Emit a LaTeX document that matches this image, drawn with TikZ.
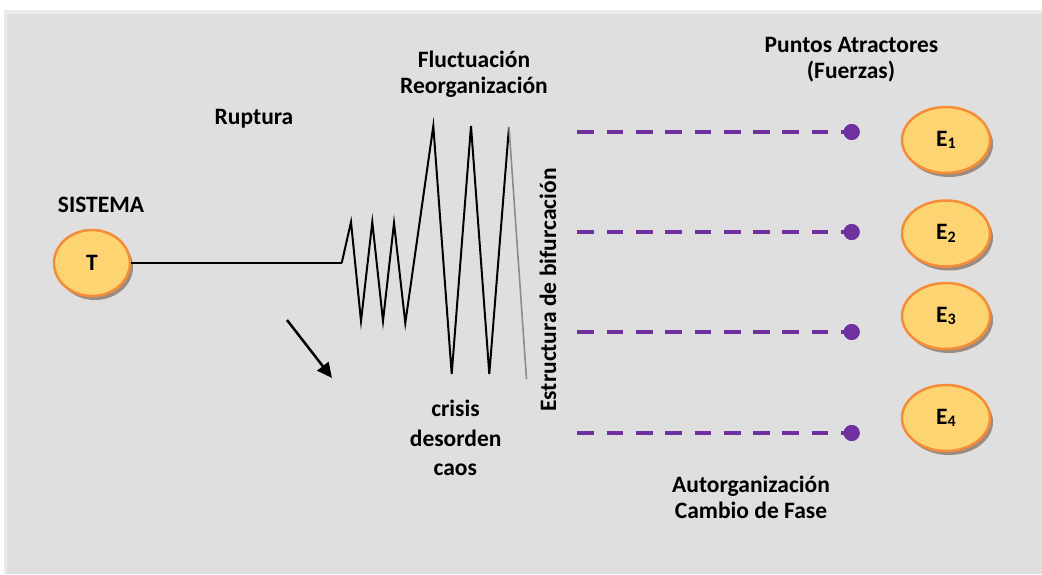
\documentclass[tikz,border=0pt]{standalone}
\usepackage{fontspec}
\setmainfont{Carlito}
\usetikzlibrary{shapes.geometric,arrows.meta}
\definecolor{bgout}{HTML}{EBEBEB}
\definecolor{bgin}{HTML}{DFDFDF}
\definecolor{ellfill}{HTML}{FDD472}
\definecolor{ellline}{HTML}{F58C38}
\definecolor{shadowc}{HTML}{9C8C80}
\definecolor{purp}{HTML}{7030A0}
\definecolor{zgray}{HTML}{8C8C8C}
\tikzset{
  lbl/.style={font=\fontsize{23.5}{27}\selectfont\bfseries, anchor=base, inner sep=0pt},
  state/.style={ellipse, draw=ellline, line width=2.5pt, fill=ellfill, inner sep=0pt,
    minimum height=66pt, font=\fontsize{23.5}{27}\selectfont\bfseries,
    preaction={fill=shadowc, transform canvas={shift={(3pt,-4pt)}}}},
  tstate/.style={state, minimum width=76pt},
  estate/.style={state, minimum width=88pt},
  attr/.style={circle, fill=purp, inner sep=0pt, minimum size=16pt},
  dashline/.style={purp, line width=4pt, dash pattern=on 16.7pt off 12.6pt},
  zig/.style={line width=2pt, line join=miter},
}
\newcommand{\Esub}[1]{E\raisebox{-0.22ex}{\fontsize{16}{16}\selectfont #1}}
\begin{document}
\begin{tikzpicture}[x=1pt,y=-1pt]
\useasboundingbox (0,0) rectangle (1042,574);
\fill[bgout] (3.5,10) rectangle (1042,574);
\fill[bgin] (7,14) rectangle (1042,574);

% texts
\node[lbl] (sistema) at (101,212) {SISTEMA};
\node[lbl] (ruptura) at (254,124) {Ruptura};
\node[lbl] (fl1) at (474,67) {Fluctuación};
\node[lbl] (fl2) at (474,93.3) {Reorganización};
\node[lbl] (pa1) at (851.5,52) {Puntos Atractores};
\node[lbl] (pa2) at (851,78) {(Fuerzas)};
\node[lbl] (cr1) at (455.5,416.7) {crisis};
\node[lbl] (cr2) at (455.7,446.7) {desorden};
\node[lbl] (cr3) at (455.3,475.7) {caos};
\node[lbl] (au1) at (751,492.7) {Autorganización};
\node[lbl] (au2) at (751,518.3) {Cambio de Fase};
\node[lbl, anchor=center, rotate=90] (estr) at (548,290) {Estructura de bifurcación};

% system node
\node[tstate] (T) at (92,263) {T};

% zigzag
\coordinate (z0) at (341.7,263);
\coordinate (z1) at (351,222);
\coordinate (z2) at (361,321);
\coordinate (z3) at (372.3,222);
\coordinate (z4) at (383,321);
\coordinate (z5) at (394,223);
\coordinate (z6) at (405.3,323);
\coordinate (z7) at (433.3,126);
\coordinate (z8) at (451.7,374);
\coordinate (z9) at (471,126);
\coordinate (z10) at (489.3,374);
\coordinate (z11) at (509,127);
\coordinate (z12) at (526.5,379);
\draw[line width=2pt] (T) -- (z0);
\draw[zig] (z0) -- (z1) -- (z2) -- (z3) -- (z4) -- (z5) -- (z6) -- (z7) -- (z8) -- (z9) -- (z10) -- (z11);
\draw[zgray, line width=1.6pt] (z11) -- (z12);

% arrow
\coordinate (a0) at (287,320);
\coordinate (a1) at (332,378);
\draw[line width=2.5pt, -{Triangle[length=15pt,width=14pt]}] (a0) -- (a1);

% attractor points
\foreach \i/\y in {1/132,2/232,3/332,4/433}{
  \coordinate (d\i) at (577.3,\y);
  \node[attr] (p\i) at (851.7,\y) {};
}
\foreach \i in {1,2,3,4}{
  \draw[dashline] (d\i) -- (p\i.center);
  \node[attr] at (p\i) {};
}

% states
\node[estate] (E1) at (946,140) {\Esub{1}};
\node[estate] (E2) at (946,233.5) {\Esub{2}};
\node[estate] (E3) at (946,316) {\Esub{3}};
\node[estate] (E4) at (946,418) {\Esub{4}};
\end{tikzpicture}
\end{document}
